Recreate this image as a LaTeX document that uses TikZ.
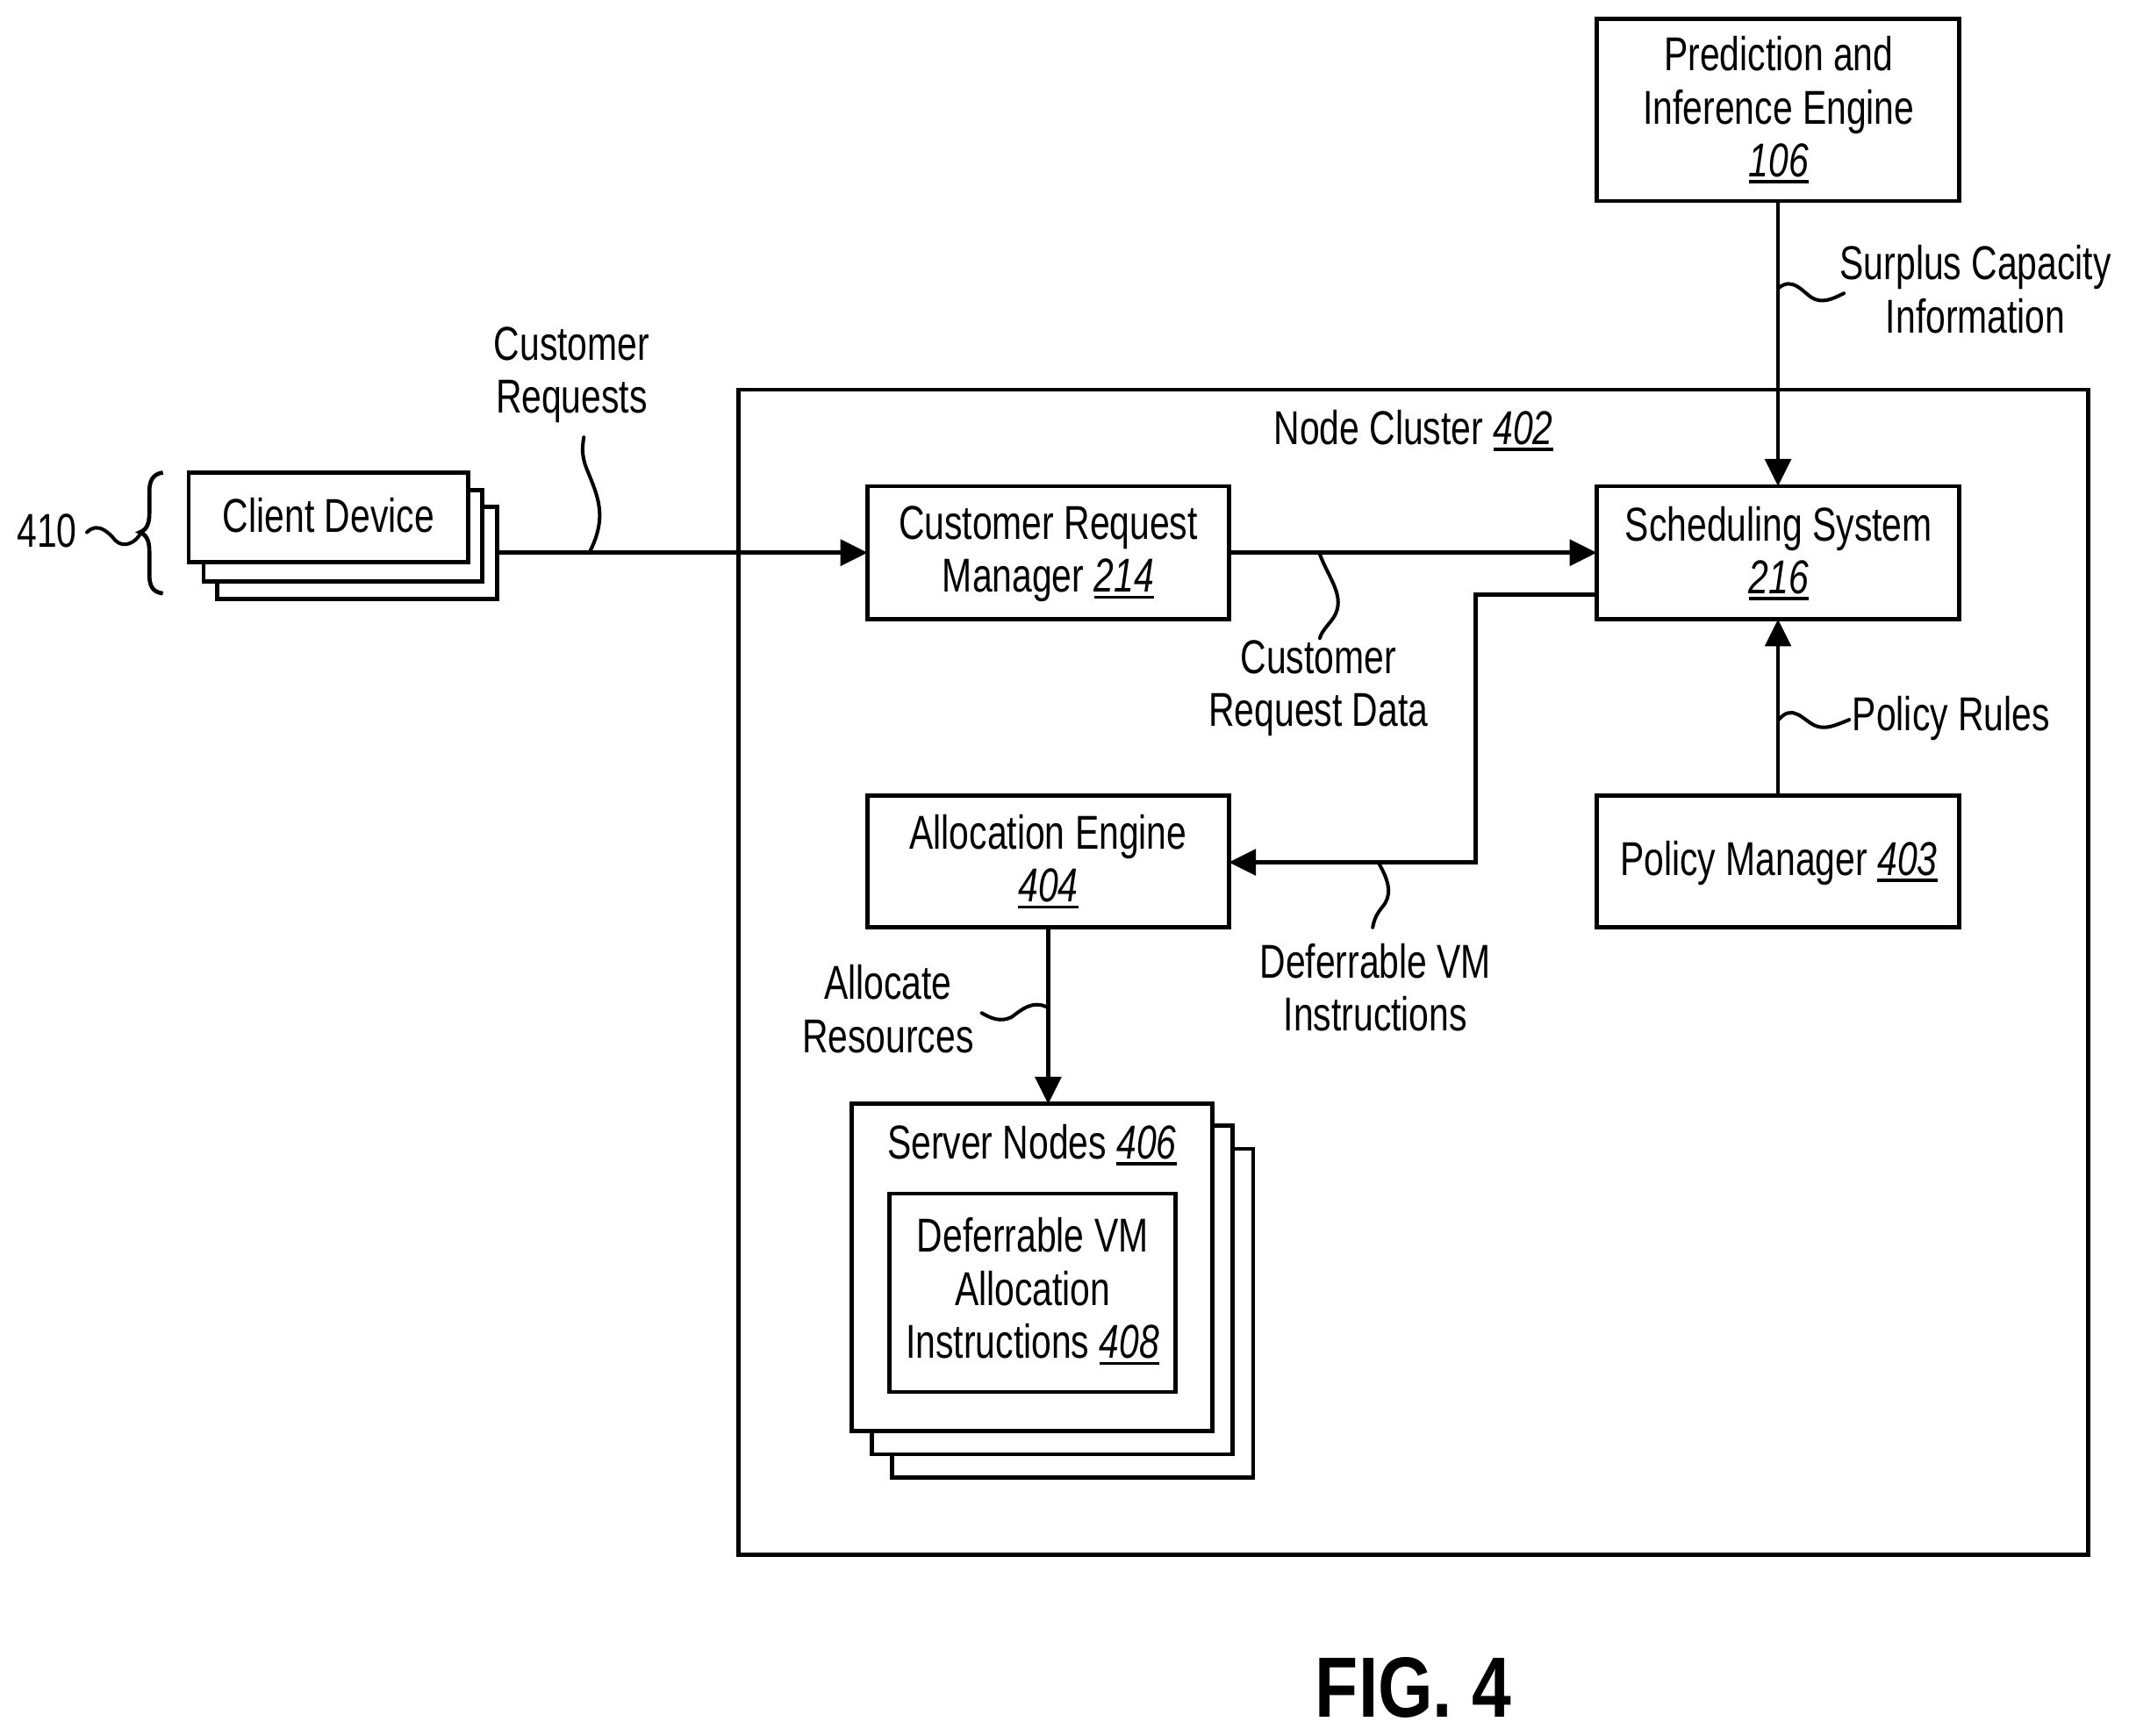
\documentclass[tikz,border=0pt]{standalone}
\usepackage{fontspec}
\setmainfont[FakeStretch=0.755]{Liberation Sans}
\newfontfamily\figfont[FakeStretch=0.825]{Liberation Sans}
\usetikzlibrary{arrows.meta}
\newcommand{\refnum}[1]{\setbox0=\hbox{\textit{#1}}\rlap{\rule[-5pt]{\wd0}{2.4pt}}\box0}
\tikzset{
  x=1pt,y=-1pt,
  every node/.style={font=\fontsize{35}{39}\selectfont,align=center,inner sep=0pt,outer sep=0pt},
  blk/.style={draw=black,fill=white,line width=3.1pt},
  link/.style={draw=black,line width=3.1pt,-{Triangle[length=20pt,width=19pt]}},
  wig/.style={draw=black,line width=2.6pt,line cap=round},
}
\begin{document}
\begin{tikzpicture}
\useasboundingbox[fill=white] (0,0) rectangle (1568,1278);
% cluster
\node[blk,minimum width=994pt,minimum height=858pt] (cluster) at (1041,716) {};
\node (clusterlabel) at (1041,317) {Node Cluster \refnum{402}};
% main blocks
\node[blk,minimum width=267pt,minimum height=134pt] (pie) at (1309.5,81) {};
\node (pietext) at (1310,81) {Prediction and\\Inference Engine\\\refnum{106}};
\node[blk,minimum width=266pt,minimum height=98pt] (crm) at (772,407) {};
\node (crmtext) at (772,408) {Customer Request\\Manager \refnum{214}};
\node[blk,minimum width=267pt,minimum height=98pt] (sched) at (1309.5,407) {};
\node (schedtext) at (1310,407.5) {Scheduling System\\\refnum{216}};
\node[blk,minimum width=266pt,minimum height=97pt] (alloc) at (772,634.5) {};
\node (alloctext) at (772,634.5) {Allocation Engine\\\refnum{404}};
\node[blk,minimum width=267pt,minimum height=97pt] (policy) at (1309.5,634.5) {};
\node (policytext) at (1310,635.5) {Policy Manager \refnum{403}};
% server stack
\node[blk,minimum width=266pt,minimum height=242pt] (srv3) at (790,967) {};
\node[blk,minimum width=266pt,minimum height=242pt] (srv2) at (775,950) {};
\node[blk,minimum width=266pt,minimum height=241pt] (srv1) at (760,933.5) {};
\node (srvlabel) at (760,843) {Server Nodes \refnum{406}};
\node[blk,minimum width=211pt,minimum height=146pt] (inner) at (760.5,952) {};
\node (innertext) at (760.5,951) {Deferrable VM\\Allocation\\Instructions \refnum{408}};
% client stack
\node[blk,minimum width=206pt,minimum height=68pt] (cl3) at (263,407) {};
\node[blk,minimum width=205pt,minimum height=67pt] (cl2) at (252.5,394.5) {};
\node[blk,minimum width=206pt,minimum height=66pt] (cl1) at (242,381) {};
\node (cltext) at (242,379.5) {Client Device};
% text labels
\node (lreq) at (421,276) {Customer\\Requests};
\node (ldata) at (971,507) {Customer\\Request Data};
\node (ldefer) at (1013,727) {Deferrable VM\\Instructions};
\node (lalloc) at (654,743) {Allocate\\Resources};
\node (lsurplus) at (1455,213) {Surplus Capacity\\Information};
\node (lpol) at (1437,529) {Policy Rules};
\node (l410) at (34.5,391) {410};
\node[font=\figfont\fontsize{63}{63}\selectfont\bfseries] (figlabel) at (1041,1243) {FIG. 4};
% connectors
\coordinate (e1) at (cl3.east |- crm.west);
\draw[link] (e1) -- (crm.west);
\draw[link] (crm.east) -- (sched.west);
\draw[link] (pie.south) -- (sched.north);
\draw[link] (policy.north) -- (sched.south);
\coordinate (sout) at (1176,438);
\draw[link] (sout) -- (1087,438) -- (1087,635) -- (alloc.east |- 0,635);
\coordinate (aout) at (772,683);
\draw[link] (alloc.south) -- (aout |- srv1.north);
% squiggles
\coordinate (w1a) at (434,407); \coordinate (w1b) at (430,322);
\draw[wig] (w1a) .. controls (448,380) and (440,365) .. (432,345) .. controls (428,335) and (429,328) .. (w1b);
\coordinate (w2b) at (972,470); \coordinate (w2a) at (972,408);
\draw[wig] (w2a) .. controls (978,425) and (992,440) .. (982,455) .. controls (977,462) and (974,464) .. (w2b);
\coordinate (w3a) at (1015,635); \coordinate (w3b) at (1011,683);
\draw[wig] (w3a) .. controls (1024,650) and (1025,660) .. (1018,668) .. controls (1014,673) and (1012,677) .. (w3b);
\coordinate (w4a) at (772,742); \coordinate (w4b) at (723,746);
\draw[wig] (w4a) .. controls (760,736) and (752,744) .. (745,749) .. controls (737,753) and (730,750) .. (w4b);
\coordinate (w5a) at (1310,212); \coordinate (w5b) at (1358,216);
\draw[wig] (w5a) .. controls (1320,204) and (1327,214) .. (1334,219) .. controls (1342,224) and (1350,220) .. (w5b);
\coordinate (w6a) at (1310,530); \coordinate (w6b) at (1362,530);
\draw[wig] (w6a) .. controls (1320,518) and (1328,530) .. (1336,534) .. controls (1344,538) and (1352,534) .. (w6b);
\coordinate (w7a) at (64,392); \coordinate (w7b) at (104,392);
\draw[wig] (w7a) .. controls (72,384) and (80,392) .. (85,398) .. controls (91,404) and (100,400) .. (w7b);
% brace
\coordinate (btop) at (120,348); \coordinate (bbot) at (120,437); \coordinate (bmid) at (103,392);
\draw[wig,line width=3pt,line cap=butt] (btop) .. controls (112,349) and (110,355) .. (110,362) -- (110,378) .. controls (110,386) and (108,390) .. (bmid) .. controls (108,394) and (110,398) .. (110,406) -- (110,423) .. controls (110,431) and (112,436) .. (bbot);
\end{tikzpicture}
\end{document}
